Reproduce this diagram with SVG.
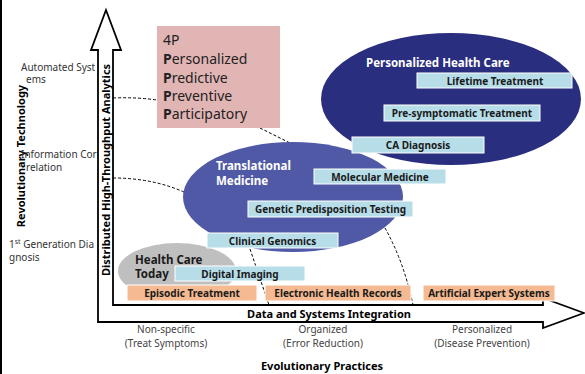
<svg xmlns="http://www.w3.org/2000/svg" width="585" height="374" viewBox="0 0 585 374">
<style>
text{font-family:"Noto Sans","Liberation Sans",sans-serif}
.lbl{font-size:10px;fill:#333}
.ax{font-size:11px;font-weight:bold;fill:#000}
.bx{font-size:10px;font-weight:bold;fill:#1a1a1a;text-anchor:middle}
.blue{fill:#B6DDE8;stroke:#fff;stroke-width:1}
.org{fill:#F5BA91;stroke:#fff;stroke-width:1}
.dash{fill:none;stroke:#000;stroke-width:1;stroke-dasharray:3 2}
.hw{font-size:11.5px;font-weight:bold;fill:#fff}
.dk{font-size:11.5px;font-weight:bold;fill:#1a1a1a}
.p4{font-size:14px;fill:#222}
.bot{font-size:10px;fill:#444;text-anchor:middle}
</style>
<rect width="585" height="374" fill="#fff"/>
<line x1="1" y1="0" x2="1" y2="374" stroke="#000" stroke-width="2"/>

<g id="axes">
<path d="M98,322 L98,50 L91,50 L106,10 L121,50 L113,50 L113,305 L543,305 L543,298 L584,313 L543,328 L543,322 Z" fill="#fff" stroke="#000" stroke-width="1.8" stroke-linejoin="miter"/>
<text class="ax" transform="translate(110,170) rotate(-90)" text-anchor="middle">Distributed High-Throughput Analytics</text>
<text class="ax" x="329" y="318" text-anchor="middle" font-size="11.5">Data and Systems Integration</text>
</g>

<g id="axis-labels">
<text class="ax" transform="translate(25,156) rotate(-90)" text-anchor="middle" font-size="12">Revolutionary Technology</text>
<text class="lbl" x="21" y="71">Automated Syst</text>
<text class="lbl" x="26" y="83">ems</text>
<text class="lbl" x="21" y="158">Information Cor</text>
<text class="lbl" x="26" y="171">relation</text>
<text class="lbl" x="9" y="248">1<tspan font-size="7" dy="-4">st</tspan><tspan dy="4"> Generation Dia</tspan></text>
<text class="lbl" x="9" y="261">gnosis</text>
<text class="bot" x="166" y="333">Non-specific</text>
<text class="bot" x="166" y="347">(Treat Symptoms)</text>
<text class="bot" x="323" y="333">Organized</text>
<text class="bot" x="323" y="347">(Error Reduction)</text>
<text class="bot" x="482" y="333">Personalized</text>
<text class="bot" x="482" y="347">(Disease Prevention)</text>
<text class="ax" x="322" y="370" text-anchor="middle">Evolutionary Practices</text>
</g>

<g id="connectors">
<path class="dash" d="M113,98 Q136,97 157,100"/>
<path class="dash" d="M260,128 L290,143"/>
<path class="dash" d="M113,178 Q152,178 184,192"/>
<path class="dash" d="M250,249 L269,305"/>
<path class="dash" d="M385,228 Q404,262 413,305"/>
</g>

<g id="p4">
<rect x="157" y="26" width="123" height="102" fill="#E2B5B5"/>
<text class="p4" x="163" y="45">4P</text>
<text class="p4" x="163" y="64"><tspan font-weight="bold">P</tspan>ersonalized</text>
<text class="p4" x="163" y="83"><tspan font-weight="bold">P</tspan>redictive</text>
<text class="p4" x="163" y="101"><tspan font-weight="bold">P</tspan>reventive</text>
<text class="p4" x="163" y="119"><tspan font-weight="bold">P</tspan>articipatory</text>
</g>

<g id="personalized-health-care">
<ellipse cx="451" cy="99" rx="130" ry="66" fill="#2A2E7E"/>
<text class="hw" x="366" y="67">Personalized Health Care</text>
</g>

<g id="translational-medicine">
<ellipse cx="293" cy="197" rx="110" ry="55" fill="#5059A6"/>
<text class="hw" x="216" y="170" font-size="12">Translational</text>
<text class="hw" x="216" y="185" font-size="12">Medicine</text>
</g>

<g id="health-care-today">
<ellipse cx="177" cy="271" rx="59" ry="28" fill="#BFBFBF"/>
<text class="dk" x="135" y="264">Health Care</text>
<text class="dk" x="135" y="278">Today</text>
</g>

<g id="lifetime-treatment">
<rect class="blue" x="417" y="73" width="155" height="15"/>
<text class="bx" x="495" y="84.5">Lifetime Treatment</text>
</g>
<g id="pre-symptomatic-treatment">
<rect class="blue" x="384" y="105" width="156" height="16"/>
<text class="bx" x="462" y="117">Pre-symptomatic Treatment</text>
</g>
<g id="ca-diagnosis">
<rect class="blue" x="352" y="137" width="132" height="16"/>
<text class="bx" x="418" y="149">CA Diagnosis</text>
</g>
<g id="molecular-medicine">
<rect class="blue" x="314" y="169" width="132" height="15"/>
<text class="bx" x="380" y="180.5">Molecular Medicine</text>
</g>
<g id="genetic-predisposition-testing">
<rect class="blue" x="248" y="201" width="165" height="16"/>
<text class="bx" x="330.5" y="213">Genetic Predisposition Testing</text>
</g>
<g id="clinical-genomics">
<rect class="blue" x="207" y="233" width="131" height="15"/>
<text class="bx" x="272.5" y="244.5">Clinical Genomics</text>
</g>
<g id="digital-imaging">
<rect class="blue" x="175" y="266" width="130" height="15"/>
<text class="bx" x="240" y="277.5">Digital Imaging</text>
</g>
<g id="episodic-treatment">
<rect class="org" x="127" y="285" width="130" height="16"/>
<text class="bx" x="192" y="297">Episodic Treatment</text>
</g>
<g id="electronic-health-records">
<rect class="org" x="265" y="285" width="146" height="16"/>
<text class="bx" x="338" y="297">Electronic Health Records</text>
</g>
<g id="artificial-expert-systems">
<rect class="org" x="423" y="285" width="132" height="16"/>
<text class="bx" x="489" y="297">Artificial Expert Systems</text>
</g>
</svg>
